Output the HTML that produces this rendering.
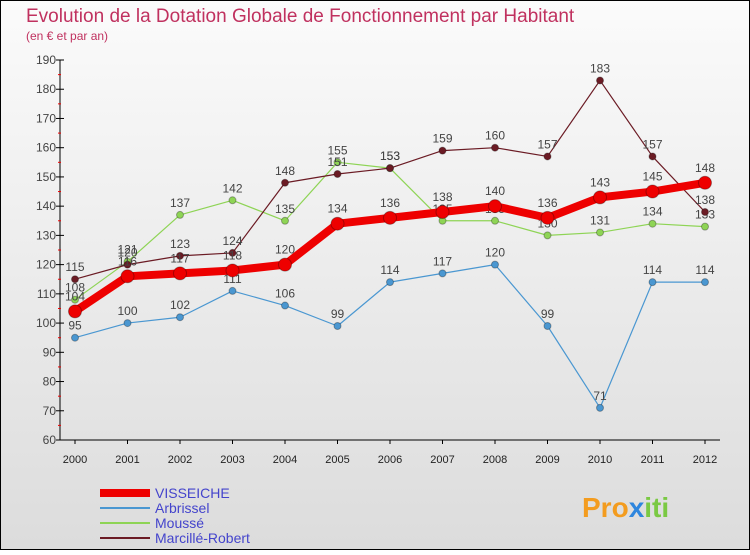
<!DOCTYPE html>
<html><head><meta charset="utf-8"><style>
body{margin:0;width:750px;height:550px;overflow:hidden;font-family:"Liberation Sans",sans-serif}
</style></head><body>
<svg id="c" width="750" height="550" xmlns="http://www.w3.org/2000/svg">
<defs><linearGradient id="bg" x1="0" y1="0" x2="0" y2="1"><stop offset="0" stop-color="#fbfbfb"/><stop offset="1" stop-color="#dcdcdc"/></linearGradient></defs>
<rect x="0.5" y="0.5" width="749" height="549" fill="url(#bg)" stroke="#000"/>
<text x="26" y="22" font-size="19" fill="#c0315f">Evolution de la Dotation Globale de Fonctionnement par Habitant</text>
<text x="26" y="40" font-size="12" fill="#c0315f">(en € et par an)</text>
<g id="axes"></g><g id="series"></g><g id="legend"></g>
<text x="582" y="517" font-size="28" font-weight="bold" fill="#f39c1f">Pro<tspan fill="#2e86de">x</tspan><tspan fill="#7ac943">iti</tspan></text>
</svg>
<script>
const years=[2000,2001,2002,2003,2004,2005,2006,2007,2008,2009,2010,2011,2012];
const yTicks=[60,70,80,90,100,110,120,130,140,150,160,170,180,190];
const visseiche=[104,116,117,118,120,134,136,138,140,136,143,145,148];
const arbrissel=[95,100,102,111,106,99,114,117,120,99,71,114,114];
const mousse=[108,121,137,142,135,155,153,135,135,130,131,134,133];
const marcille=[115,120,123,124,148,151,153,159,160,157,183,157,138];
const NS='http://www.w3.org/2000/svg';
const xS=i=>75+i*52.5, yS=v=>440-(v-60)*380/130;
function mk(t,a,p){const e=document.createElementNS(NS,t);for(const k in a)e.setAttribute(k,a[k]);p.appendChild(e);return e;}
const ax=document.getElementById('axes');
let l=mk('line',{x1:60,y1:60,x2:60,y2:440,stroke:'#000'},ax);

l=mk('line',{x1:60,y1:440,x2:720,y2:440,stroke:'#000'},ax);

yTicks.forEach(v=>{const y=yS(v);
 mk('line',{x1:56,y1:y,x2:64,y2:y,stroke:'#000'},ax);
 if(v<190)mk('line',{x1:58,y1:y-14.6,x2:61,y2:y-14.6,stroke:'#e00'},ax);
 const t=mk('text',{x:56,y:y+4,'font-size':12,'text-anchor':'end',fill:'#444'},ax);t.textContent=v;
 });
years.forEach((yr,i)=>{const x=xS(i);
 mk('line',{x1:x,y1:440,x2:x,y2:444,stroke:'#000'},ax);
 const t=mk('text',{x:x,y:463,'font-size':11,'text-anchor':'middle',fill:'#222'},ax);t.textContent=yr;
 });
const sg=document.getElementById('series');
function series(vals,col,w,r,name){const g=mk('g',{},sg);
 
 mk('polyline',{points:vals.map((v,i)=>xS(i)+','+yS(v)).join(' '),fill:'none',stroke:col,'stroke-width':w,'stroke-linejoin':'round'},g);
 vals.forEach((v,i)=>{const c=mk('circle',{cx:xS(i),cy:yS(v),r:r,fill:col,stroke:'rgba(0,0,0,0.3)'},g);
  
  const t=mk('text',{x:xS(i),y:yS(v)-8-(r>5?3:0),'font-size':12,'text-anchor':'middle',fill:'#444'},g);t.textContent=v;
  });}
series(arbrissel,'#4a97d1',1.2,3.5,'arbrissel');
series(mousse,'#8ed455',1.2,3.5,'mousse');
series(marcille,'#6b1b24',1.2,3.5,'marcille-robert');
series(visseiche,'#ee0000',8,6.5,'visseiche');
const lg=document.getElementById('legend');
const names=['VISSEICHE','Arbrissel','Moussé','Marcillé-Robert'],cols=['#ee0000','#4a97d1','#8ed455','#6b1b24'],ws=[8,2,2,2];
names.forEach((n,i)=>{const y=493+i*15;const g=mk('g',{},lg);
 
 mk('line',{x1:100,y1:y,x2:150,y2:y,stroke:cols[i],'stroke-width':ws[i]},g);
 const t=mk('text',{x:155,y:y+5,'font-size':14,fill:'#4444cc'},g);t.textContent=n;});
</script>
</body></html>
